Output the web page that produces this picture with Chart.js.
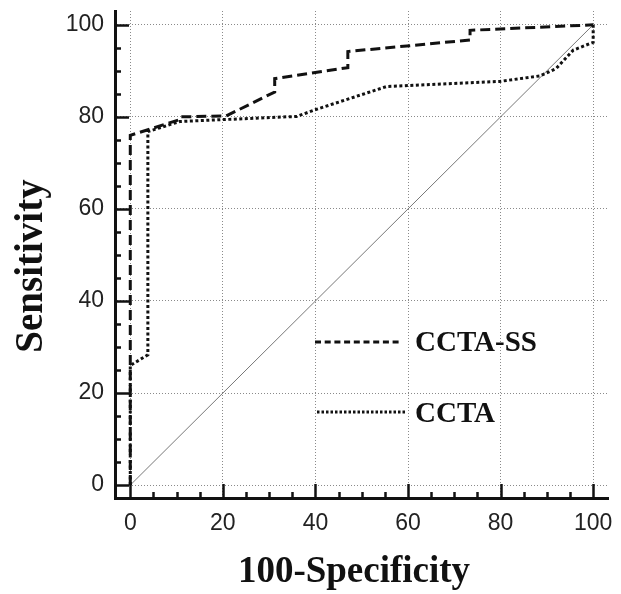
<!DOCTYPE html>
<html>
<head>
<meta charset="utf-8">
<script src="https://cdn.jsdelivr.net/npm/chart.js@4"></script>
<style>
  body { margin: 0; background: #fff; }
  #wrap { width: 621px; height: 594px; }
</style>
</head>
<body>
<div id="wrap"><canvas id="rocChart" width="621" height="594"></canvas></div>
<script>
// ROC data (100-Specificity, Sensitivity)
const ssX = [0, 0, 10.7, 11, 20.7, 31.2, 31.2, 47, 47, 73.4, 73.4, 100];
const ssY = [0, 76, 79.4, 80, 80.2, 85.4, 88.3, 90.7, 94.2, 96.7, 98.8, 100];
const cctaX = [0, 0, 3.8, 3.8, 10.7, 36, 39.8, 55.4, 79.8, 88.5, 92, 95.7, 100, 100];
const cctaY = [0, 26, 28.3, 76.8, 79, 80.1, 81.5, 86.6, 87.7, 88.9, 90.5, 94.5, 96.2, 100];
const refX = [0, 100];
const refY = [0, 100];
const seriesNames = ['CCTA-SS', 'CCTA'];
const tickVals = [0, 20, 40, 60, 80, 100];
const xTitle = '100-Specificity';
const yTitle = 'Sensitivity';

function toPoints(xs, ys) {
    return xs.map((x, i) => ({ x: x, y: ys[i] }));
}

// inward tick marks, axis titles and the legend
const decor = {
    id: 'decor',
    afterDraw(chart) {
        const ctx = chart.ctx;
        const xs = chart.scales.x, ys = chart.scales.y;
        const area = chart.chartArea;
        ctx.save();
        ctx.strokeStyle = '#111';
        ctx.lineWidth = 2.5;
        for (let v = 0; v <= 100; v += 5) {
            const len = v % 20 === 0 ? 14 : 6;
            const px = Math.round(xs.getPixelForValue(v)) + 0.5;
            ctx.beginPath();
            ctx.moveTo(px, area.bottom);
            ctx.lineTo(px, area.bottom - len);
            ctx.stroke();
            const py = Math.round(ys.getPixelForValue(v)) + 0.5;
            ctx.beginPath();
            ctx.moveTo(area.left, py);
            ctx.lineTo(area.left + len, py);
            ctx.stroke();
        }

        // axis titles
        ctx.fillStyle = '#111';
        ctx.font = 'bold 37px "Liberation Serif", "Times New Roman", serif';
        ctx.textAlign = 'center';
        ctx.textBaseline = 'alphabetic';
        ctx.fillText(xTitle, 354, 582);
        ctx.save();
        ctx.translate(42, 266);
        ctx.rotate(-Math.PI / 2);
        ctx.font = 'bold 39px "Liberation Serif", "Times New Roman", serif';
        ctx.fillText(yTitle, 0, 0);
        ctx.restore();

        // legend
        const rows = [
            { x1: 315, x2: 402, y: 342, ty: 351, ds: chart.data.datasets[0], dash: [6, 3.7] },
            { x1: 317, x2: 405, y: 412, ty: 422, ds: chart.data.datasets[1], dash: [2.5, 2] }
        ];
        ctx.font = 'bold 29px "Liberation Serif", "Times New Roman", serif';
        ctx.textAlign = 'left';
        rows.forEach(r => {
            ctx.beginPath();
            ctx.setLineDash(r.dash);
            ctx.lineWidth = 3;
            ctx.strokeStyle = r.ds.borderColor;
            ctx.moveTo(r.x1, r.y);
            ctx.lineTo(r.x2, r.y);
            ctx.stroke();
            ctx.setLineDash([]);
            ctx.fillText(r.ds.label, 415, r.ty);
        });
        ctx.restore();
    }
};

const tickFont = { family: '"Liberation Sans", Arial, sans-serif', size: 23 };

new Chart(document.getElementById('rocChart').getContext('2d'), {
    type: 'scatter',
    data: {
        datasets: [{
            label: seriesNames[0],
            data: toPoints(ssX, ssY),
            showLine: true,
            borderColor: '#111',
            borderWidth: 3,
            borderDash: [10, 5],
            pointRadius: 0,
            tension: 0
        }, {
            label: seriesNames[1],
            data: toPoints(cctaX, cctaY),
            showLine: true,
            borderColor: '#111',
            borderWidth: 3,
            borderDash: [3, 2.5],
            pointRadius: 0,
            tension: 0
        }, {
            label: 'Reference',
            data: toPoints(refX, refY),
            showLine: true,
            borderColor: '#777',
            borderWidth: 1,
            pointRadius: 0
        }]
    },
    options: {
        responsive: false,
        animation: false,
        layout: { padding: { top: 11, right: 13, left: 0, bottom: 0 } },
        plugins: {
            legend: { display: false },
            tooltip: { enabled: false }
        },
        scales: {
            x: {
                type: 'linear',
                min: -3.3,
                max: 103.2,
                afterBuildTicks: s => { s.ticks = tickVals.map(v => ({ value: v })); },
                afterFit: s => { s.height = 96; s.paddingLeft = 0; s.paddingRight = 0; },
                grid: { color: '#8a8a8a', lineWidth: 1, drawTicks: false },
                border: { display: true, color: '#111', width: 3, dash: [1, 2] },
                ticks: { color: '#222', font: tickFont, padding: 12 }
            },
            y: {
                type: 'linear',
                min: -2.8,
                max: 103,
                afterBuildTicks: s => { s.ticks = tickVals.map(v => ({ value: v })); },
                afterFit: s => { s.width = 115; s.paddingTop = 0; s.paddingBottom = 0; },
                grid: { color: '#8a8a8a', lineWidth: 1, drawTicks: false },
                border: { display: true, color: '#111', width: 3, dash: [1, 2] },
                ticks: { color: '#222', font: tickFont, padding: 11 }
            }
        }
    },
    plugins: [decor]
});
</script>
</body>
</html>
